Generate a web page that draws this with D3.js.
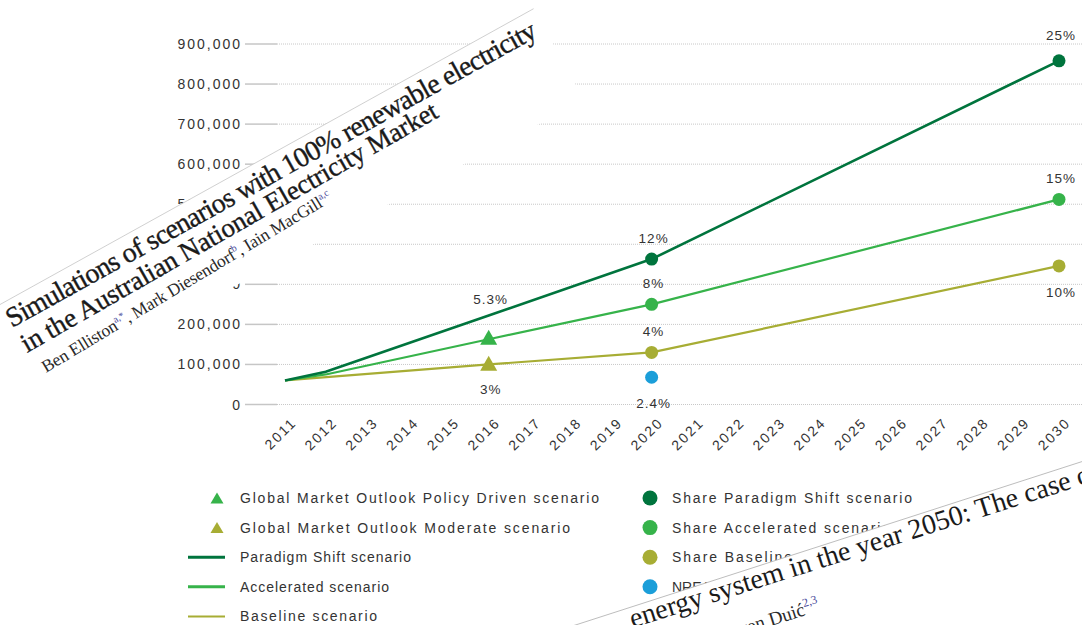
<!DOCTYPE html>
<html><head><meta charset="utf-8">
<script src="https://cdn.jsdelivr.net/npm/d3@7/dist/d3.min.js"></script>
<style>body{margin:0;background:#fff}svg{display:block}</style>
</head><body>
<svg id="chart" width="1082" height="625"></svg>
<script>
// ---------- data ----------
const years = ["2011","2012","2013","2014","2015","2016","2017","2018","2019","2020",
               "2021","2022","2023","2024","2025","2026","2027","2028","2029","2030"];
const yTicks = [0,100000,200000,300000,400000,500000,600000,700000,800000,900000];

const paradigmShift = [["2011",60000],["2012",82000],["2016",222000],["2020",363000],["2030",858000]];
const accelerated   = [["2011",60000],["2012",75000],["2016",163000],["2020",250000],["2030",512000]];
const baseline      = [["2011",60000],["2016",100000],["2020",130000],["2030",346000]];

const gmoPolicyDriven = [["2016",168000]];
const gmoModerate     = [["2016",103000,"3%"]];
const shareParadigm    = [["2020",363000,"12%"],["2030",858000,"25%"]];
const shareAccelerated = [["2020",250000,"8%"],["2030",512000,"15%"]];
const shareBaseline    = [["2020",130000,"4%"],["2030",346000,"10%"]];
const nreap            = [["2020",68000,"2.4%"]];
const paradigmNote     = [["2016",222000,"5.3%"]];

const legendLeft = ["Global Market Outlook Policy Driven scenario","Global Market Outlook Moderate scenario",
                    "Paradigm Shift scenario","Accelerated scenario","Baseline scenario"];
const legendRight = ["Share Paradigm Shift scenario","Share Accelerated scenario","Share Baseline","NREAP"];

// ---------- styles ----------
const C = {dark:"#00743d", green:"#36b34a", olive:"#a7ad34", blue:"#1b9ed9", text:"#333"};
const svg = d3.select("#chart");
const x = d3.scalePoint().domain(years).range([285, 1059]);
const y = d3.scaleLinear().domain([0, 900000]).range([404.5, 44]);
const sans = "'Liberation Sans', Arial, sans-serif";
const serif = "'Liberation Serif', 'Times New Roman', serif";

// grid + y axis
const grid = svg.append("g");
yTicks.forEach(t => {
  grid.append("line").attr("x1",245).attr("x2",277).attr("y1",y(t)).attr("y2",y(t))
    .attr("stroke","#c6c6c6").attr("stroke-width",1.5);
  grid.append("line").attr("x1",277).attr("x2",1082).attr("y1",y(t)).attr("y2",y(t))
    .attr("stroke","#c8c8c8").attr("stroke-width",1).attr("stroke-dasharray","1,1");
  grid.append("text").attr("x",242).attr("y",y(t)).attr("dy","0.36em")
    .attr("text-anchor","end").attr("font-family",sans).attr("font-size",14)
    .attr("letter-spacing","2px").attr("fill",C.text).text(d3.format(",")(t));
});

// x labels
years.forEach(yr => {
  svg.append("text").attr("transform",`translate(${x(yr)+9},420) rotate(-45)`)
    .attr("text-anchor","end").attr("dy","0.35em").attr("font-family",sans).attr("font-size",14)
    .attr("letter-spacing","2px").attr("fill",C.text).text(yr);
});

// lines
const line = d3.line().x(d => x(d[0])).y(d => y(d[1]));
[[baseline,C.olive,2.2],[accelerated,C.green,2.2],[paradigmShift,C.dark,2.6]].forEach(([data,col,w]) => {
  svg.append("path").datum(data).attr("d",line).attr("fill","none")
    .attr("stroke",col).attr("stroke-width",w).attr("stroke-linejoin","round");
});

// triangles
function tri(cx, cy, w, h){ return `M${cx},${cy-h/2}L${cx+w/2},${cy+h/2}L${cx-w/2},${cy+h/2}Z`; }
[[gmoModerate,C.olive],[gmoPolicyDriven,C.green]].forEach(([data,col]) => {
  svg.selectAll(null).data(data).enter().append("path")
    .attr("d", d => tri(x(d[0]), y(d[1]), 17, 15)).attr("fill", col);
});
// circles
[[shareParadigm,C.dark],[shareAccelerated,C.green],[shareBaseline,C.olive],[nreap,C.blue]].forEach(([data,col]) => {
  svg.selectAll(null).data(data).enter().append("circle")
    .attr("cx", d => x(d[0])).attr("cy", d => y(d[1])).attr("r",6.5).attr("fill",col);
});

// data labels
const below = new Set(["shareBaseline:2030","nreap:2020","gmoModerate:2016"]);
const labelSets = {shareParadigm, shareAccelerated, shareBaseline, nreap, gmoModerate, paradigmNote};
Object.entries(labelSets).forEach(([name, data]) => {
  data.forEach(d => {
    const isBelow = below.has(name+":"+d[0]);
    const off = isBelow ? 26 : (name === "paradigmNote" ? -16 : (d[2]==="25%" ? -26 : -21));
    svg.append("text").attr("x", x(d[0])+2).attr("y", y(d[1]) + off).attr("dy","0.36em")
      .attr("text-anchor","middle").attr("font-family",sans).attr("font-size",13.5)
      .attr("letter-spacing","1px").attr("fill",C.text).text(d[2]);
  });
});

// legend
const rowY = i => 498 + i*29.6;
const leftWidths = [359,330,171,149,137];
const rightWidths = [240,218,120,null];
legendLeft.forEach((lbl,i) => {
  const g = svg.append("g");
  if (i < 2) {
    g.append("path").attr("d", tri(217, rowY(i), 13, 11)).attr("fill", i===0 ? C.green : C.olive);
  } else {
    const col = [C.dark, C.green, C.olive][i-2];
    g.append("line").attr("x1",188).attr("x2",225).attr("y1",rowY(i)).attr("y2",rowY(i))
      .attr("stroke",col).attr("stroke-width", i===4 ? 2 : 3);
  }
  g.append("text").attr("x",240).attr("y",rowY(i)).attr("dy","0.36em")
    .attr("font-family",sans).attr("font-size",14).attr("fill",C.text)
    .attr("textLength",leftWidths[i]).attr("lengthAdjust","spacing").text(lbl);
});
legendRight.forEach((lbl,i) => {
  const col = [C.dark,C.green,C.olive,C.blue][i];
  svg.append("circle").attr("cx",650).attr("cy",rowY(i)).attr("r",7.5).attr("fill",col);
  const t = svg.append("text").attr("x",672).attr("y",rowY(i)).attr("dy","0.36em")
    .attr("font-family",sans).attr("font-size",14).attr("fill",C.text).text(lbl);
  if (rightWidths[i]) t.attr("textLength",rightWidths[i]).attr("lengthAdjust","spacing");
});

// ---------- paper snippet 1 (top-left) ----------
const p1 = svg.append("g");
p1.append("polygon").attr("points","-20,315.6 533.6,8.7 584,100 -20,422").attr("fill","#fff");
p1.append("line").attr("x1",-20).attr("y1",315.6).attr("x2",533.6).attr("y2",8.7)
  .attr("stroke","#c4c4c4").attr("stroke-width",0.8);
p1.append("text").attr("transform","translate(12,328) rotate(-29)")
  .attr("font-family",serif).attr("font-size",28).attr("fill","#1a1a1a")
  .attr("stroke","#1a1a1a").attr("stroke-width",0.35)
  .attr("textLength",602).attr("lengthAdjust","spacing")
  .text("Simulations of scenarios with 100% renewable electricity");
p1.append("text").attr("transform","translate(27,353) rotate(-29.8)")
  .attr("font-family",serif).attr("font-size",27).attr("fill","#1a1a1a")
  .attr("stroke","#1a1a1a").attr("stroke-width",0.35)
  .attr("textLength",476).attr("lengthAdjust","spacing")
  .text("in the Australian National Electricity Market");
const a1 = p1.append("text").attr("transform","translate(46,373) rotate(-31)")
  .attr("font-family",serif).attr("font-size",17.5).attr("fill","#2a2a2a")
  .attr("textLength",335).attr("lengthAdjust","spacing");
a1.append("tspan").text("Ben Elliston");
a1.append("tspan").attr("dy",-7).attr("font-size",10).attr("fill","#4b4b9b").text("a,*");
a1.append("tspan").attr("dy",7).text(", Mark Diesendorf");
a1.append("tspan").attr("dy",-7).attr("font-size",10).attr("fill","#4b4b9b").text("b");
a1.append("tspan").attr("dy",7).text(", Iain MacGill");
a1.append("tspan").attr("dy",-7).attr("font-size",10).attr("fill","#4b4b9b").text("a,c");

// ---------- paper snippet 2 (bottom-right) ----------
const p2 = svg.append("g");
p2.append("polygon").attr("points","560,630 1090,459 1090,700 560,700").attr("fill","#fff");
p2.append("line").attr("x1",560).attr("y1",630).attr("x2",1090).attr("y2",459)
  .attr("stroke","#b5b5b5").attr("stroke-width",0.9);
const t2 = p2.append("g").attr("transform","translate(850,559) rotate(-17.6)");
t2.append("text").attr("x",-228).attr("y",0).attr("font-family",serif)
  .attr("font-size",28).attr("fill","#1a1a1a").text("energy system in the year 2050: The case of Macedonia");
const a2 = t2.append("text").attr("x",-150).attr("y",40).attr("font-family",serif)
  .attr("font-size",19).attr("fill","#2a2a2a");
a2.append("tspan").text("Neven Duić");
a2.append("tspan").attr("dy",-8).attr("font-size",12).attr("fill","#4b4b9b").text("2,3");
</script>
</body></html>
